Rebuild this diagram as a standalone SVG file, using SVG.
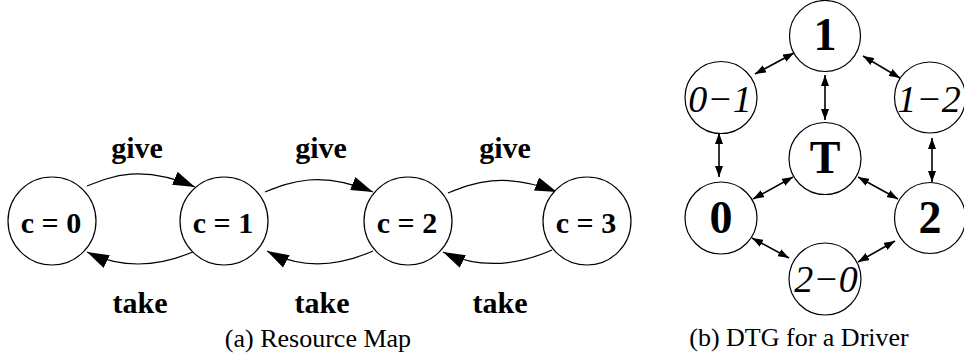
<svg xmlns="http://www.w3.org/2000/svg" width="964" height="360" viewBox="0 0 964 360">
<style>
.n{fill:#fff;stroke:#000;stroke-width:1.2}
.e{fill:none;stroke:#000;stroke-width:1.2}
.d{fill:none;stroke:#000;stroke-width:1.6}
text{font-family:'Liberation Serif','DejaVu Serif',serif;fill:#000;text-anchor:middle}
.b{font-weight:bold}
.i{font-style:italic}
.c{font-size:26px}
.lb{font-size:30px}
.rb{font-size:46px}
.ri{font-size:38px}
</style>
<defs>
<marker id="big" markerUnits="userSpaceOnUse" markerWidth="22" markerHeight="14" refX="22" refY="7" orient="auto" viewBox="0 0 22 14">
<path d="M0,0 L22,7 L0,14 z" fill="#000"/>
</marker>
<marker id="sm" markerUnits="userSpaceOnUse" markerWidth="11" markerHeight="8" refX="11" refY="4" orient="auto-start-reverse" viewBox="0 0 11 8">
<path d="M0,0 L11,4 L0,8 z" fill="#000"/>
</marker>
</defs>

<g id="connectors">
<path class="e" marker-end="url(#big)" d="M87,186 C112,176 142,164 195,187"/>
<path class="e" marker-end="url(#big)" d="M265,192 C290,182 320,170 373,192"/>
<path class="e" marker-end="url(#big)" d="M448,193 C473,183 503,171 557,192"/>
<path class="e" marker-end="url(#big)" d="M195,251 C170,262 130,273 87,252"/>
<path class="e" marker-end="url(#big)" d="M373,251 C348,262 308,273 267,251"/>
<path class="e" marker-end="url(#big)" d="M552,250 C527,261 487,273 443,252"/>

<path class="d" marker-start="url(#sm)" marker-end="url(#sm)" d="M755,74 L794,53"/>
<path class="d" marker-start="url(#sm)" marker-end="url(#sm)" d="M863,56 L900,78"/>
<path class="d" marker-start="url(#sm)" marker-end="url(#sm)" d="M825,75 L825,120"/>
<path class="d" marker-start="url(#sm)" marker-end="url(#sm)" d="M719,133 L719,177"/>
<path class="d" marker-start="url(#sm)" marker-end="url(#sm)" d="M932,138 L932,182"/>
<path class="d" marker-start="url(#sm)" marker-end="url(#sm)" d="M753,199 L793,177"/>
<path class="d" marker-start="url(#sm)" marker-end="url(#sm)" d="M858,177 L898,199"/>
<path class="d" marker-start="url(#sm)" marker-end="url(#sm)" d="M752,238 L789,258"/>
<path class="d" marker-start="url(#sm)" marker-end="url(#sm)" d="M858,262 L895,241"/>
</g>

<g id="labels">
<text class="b lb" x="137" y="158">give</text>
<text class="b lb" x="321" y="158">give</text>
<text class="b lb" x="505" y="158">give</text>
<text class="b lb" x="140" y="313">take</text>
<text class="b lb" x="322" y="313">take</text>
<text class="b lb" x="500" y="313">take</text>
<text class="c" x="318" y="347">(a) Resource Map</text>
<text class="c" x="799" y="346">(b) DTG for a Driver</text>
</g>

<g id="c0"><circle class="n" cx="52" cy="221" r="44"/><text class="b lb" x="51" y="233">c = 0</text></g>
<g id="c1"><circle class="n" cx="224" cy="221" r="44"/><text class="b lb" x="223" y="233">c = 1</text></g>
<g id="c2"><circle class="n" cx="408" cy="221" r="44"/><text class="b lb" x="407" y="233">c = 2</text></g>
<g id="c3"><circle class="n" cx="587" cy="221" r="44"/><text class="b lb" x="586" y="233">c = 3</text></g>

<g id="n1"><circle class="n" cx="825" cy="36" r="35.5"/><text class="b rb" x="825" y="50">1</text></g>
<g id="n01"><circle class="n" cx="721" cy="97.5" r="36"/><text class="i ri" x="720" y="112">0−1</text></g>
<g id="n12"><circle class="n" cx="930" cy="97.5" r="35.5"/><text class="i ri" x="929" y="112">1−2</text></g>
<g id="nT"><circle class="n" cx="825" cy="158.5" r="36"/><text class="b rb" x="825" y="173">T</text></g>
<g id="n0"><circle class="n" cx="721" cy="218" r="36"/><text class="b rb" x="721" y="233">0</text></g>
<g id="n2"><circle class="n" cx="930" cy="218" r="35.5"/><text class="b rb" x="930" y="233">2</text></g>
<g id="n20"><circle class="n" cx="825" cy="279" r="36"/><text class="i ri" x="826" y="292">2−0</text></g>
</svg>
